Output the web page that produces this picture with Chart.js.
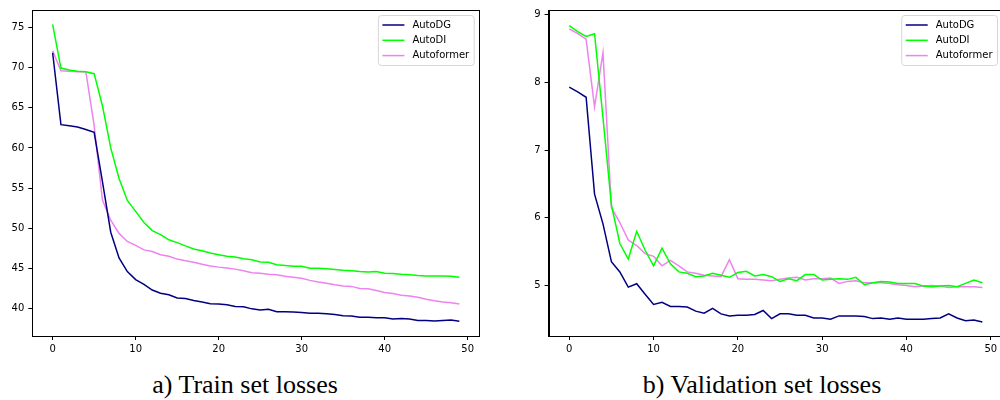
<!DOCTYPE html>
<html>
<head>
<meta charset="utf-8">
<script src="https://cdn.jsdelivr.net/npm/chart.js@4.4.1/dist/chart.umd.min.js"></script>
<style>
    html, body { margin: 0; padding: 0; background: #fff; width: 1000px; height: 400px; overflow: hidden; }
    canvas { position: absolute; top: 0; }
    #trainChart { left: 0; }
    #valChart { left: 510px; }
    .caption {
        position: absolute; top: 372px; line-height: 26px; white-space: nowrap;
        font-family: "Liberation Serif", "Times New Roman", serif; font-size: 26px; color: #000;
        transform: translateX(-50%);
    }
</style>
</head>
<body>
<canvas id="trainChart" width="490" height="360"></canvas>
<canvas id="valChart" width="500" height="360"></canvas>
<div class="caption" style="left:245px">a) Train set losses</div>
<div class="caption" style="left:762px">b) Validation set losses</div>
<script>
const epochs = [0, 1, 2, 3, 4, 5, 6, 7, 8, 9, 10, 11, 12, 13, 14, 15, 16, 17, 18, 19,
    20, 21, 22, 23, 24, 25, 26, 27, 28, 29, 30, 31, 32, 33, 34, 35, 36, 37, 38, 39,
    40, 41, 42, 43, 44, 45, 46, 47, 48, 49];
const seriesNames = ['AutoDG', 'AutoDI', 'Autoformer'];
const seriesColors = ['#000080', '#00ff00', '#ee82ee'];

// a) Train set losses
const trainDG = [71.85, 62.9, 62.75, 62.6, 62.3, 61.95, 55.8, 49.5, 46.3, 44.6,
    43.6, 43.0, 42.3, 41.9, 41.7, 41.3, 41.25, 41.0, 40.8, 40.6,
    40.55, 40.45, 40.25, 40.2, 39.95, 39.8, 39.9, 39.6, 39.6, 39.55,
    39.5, 39.4, 39.4, 39.35, 39.25, 39.1, 39.05, 38.9, 38.9, 38.85,
    38.85, 38.7, 38.75, 38.7, 38.5, 38.5, 38.45, 38.5, 38.55, 38.4];
const trainDI = [75.4, 69.95, 69.7, 69.55, 69.5, 69.25, 65.25, 60.0, 56.2, 53.45,
    52.1, 50.7, 49.7, 49.2, 48.55, 48.2, 47.8, 47.4, 47.2, 46.9,
    46.7, 46.5, 46.4, 46.2, 46.07, 45.8, 45.75, 45.45, 45.35, 45.25,
    45.25, 45.0, 45.0, 44.96, 44.85, 44.75, 44.7, 44.6, 44.55, 44.6,
    44.4, 44.35, 44.25, 44.2, 44.1, 44.05, 44.05, 44.05, 44.0, 43.9];
const trainFormer = [72.1, 69.6, 69.55, 69.5, 69.5, 62.8, 53.5, 51.0, 49.35, 48.35,
    47.85, 47.3, 47.1, 46.7, 46.5, 46.15, 45.95, 45.75, 45.5, 45.3,
    45.15, 45.05, 44.9, 44.7, 44.46, 44.4, 44.25, 44.2, 44.0, 43.9,
    43.75, 43.5, 43.3, 43.15, 42.95, 42.8, 42.75, 42.5, 42.45, 42.25,
    42.0, 41.85, 41.65, 41.55, 41.4, 41.15, 40.95, 40.8, 40.7, 40.55];

// b) Validation set losses
const valDG = [7.93, 7.86, 7.78, 6.35, 5.91, 5.35, 5.2, 4.975, 5.025, 4.87,
    4.72, 4.75, 4.69, 4.69, 4.68, 4.62, 4.59, 4.66, 4.58, 4.55,
    4.56, 4.56, 4.57, 4.63, 4.51, 4.58, 4.58, 4.56, 4.56, 4.52,
    4.52, 4.5, 4.55, 4.55, 4.55, 4.54, 4.51, 4.52, 4.5, 4.52,
    4.5, 4.5, 4.5, 4.51, 4.52, 4.58, 4.52, 4.48, 4.49, 4.46];
const valDI = [8.84, 8.75, 8.68, 8.72, 7.48, 6.19, 5.62, 5.39, 5.8, 5.52,
    5.29, 5.55, 5.32, 5.2, 5.18, 5.13, 5.14, 5.18, 5.15, 5.12,
    5.19, 5.21, 5.14, 5.16, 5.13, 5.06, 5.1, 5.07, 5.16, 5.16,
    5.08, 5.09, 5.1, 5.09, 5.12, 5.01, 5.04, 5.06, 5.05, 5.03,
    5.03, 5.03, 4.99, 4.98, 4.99, 5.0, 4.98, 5.03, 5.08, 5.04];
const valFormer = [8.79, 8.72, 8.64, 7.64, 8.44, 6.15, 5.93, 5.67, 5.59, 5.47,
    5.43, 5.29, 5.37, 5.29, 5.2, 5.18, 5.15, 5.14, 5.13, 5.38,
    5.1, 5.09, 5.09, 5.08, 5.07, 5.09, 5.11, 5.12, 5.08, 5.1,
    5.1, 5.11, 5.03, 5.06, 5.07, 5.04, 5.04, 5.04, 5.03, 5.01,
    5.0, 4.98, 4.99, 5.0, 4.99, 4.97, 4.98, 4.98, 4.98, 4.97];

const xTicks = [0, 10, 20, 30, 40, 50];
const trainYTicks = [40, 45, 50, 55, 60, 65, 70, 75];
const valYTicks = [5, 6, 7, 8, 9];

const tickFont = { family: 'DejaVu Sans', size: 10 };

// box around the plot + legend in the upper right corner, like matplotlib
const framePlugin = {
    id: 'frame',
    afterDraw(chart) {
        const ctx = chart.ctx;
        const a = chart.chartArea;
        ctx.save();
        ctx.strokeStyle = '#000';
        ctx.lineWidth = 1;
        ctx.strokeRect(Math.round(a.left) + 0.5, Math.round(a.top) + 0.5,
            Math.round(a.right - a.left), Math.round(a.bottom - a.top));

        ctx.font = '10px "DejaVu Sans"';
        const labels = chart.data.datasets.map(d => d.label);
        const textW = Math.max(...labels.map(l => ctx.measureText(l).width));
        const w = 4 + 22 + 8 + textW + 5;
        const h = 50;
        const x = a.right - 5.5 - w;
        const y = a.top + 5.5;
        ctx.beginPath();
        ctx.roundRect(x, y, w, h, 3);
        ctx.fillStyle = 'rgba(255,255,255,0.8)';
        ctx.fill();
        ctx.strokeStyle = '#d6d6d6';
        ctx.stroke();
        ctx.textBaseline = 'middle';
        chart.data.datasets.forEach((d, i) => {
            const ry = y + 9.5 + i * 15.3;
            ctx.beginPath();
            ctx.moveTo(x + 4, ry);
            ctx.lineTo(x + 26, ry);
            ctx.strokeStyle = d.borderColor;
            ctx.lineWidth = 1.5;
            ctx.stroke();
            ctx.fillStyle = '#000';
            ctx.fillText(d.label, x + 34, ry);
        });
        ctx.restore();
    }
};

function makeChart(id, seriesList, yMin, yMax, yTicks, yWidth, pad) {
    const ctx = document.getElementById(id).getContext('2d');
    return new Chart(ctx, {
        type: 'line',
        data: {
            datasets: seriesList.map((vals, i) => ({
                label: seriesNames[i],
                data: vals.map((v, j) => ({ x: epochs[j], y: v })),
                borderColor: seriesColors[i],
                borderWidth: 1.5,
                pointRadius: 0,
                tension: 0,
                fill: false
            }))
        },
        options: {
            responsive: false,
            animation: false,
            devicePixelRatio: 1,
            layout: { padding: pad },
            plugins: { legend: { display: false }, tooltip: { enabled: false } },
            scales: {
                x: {
                    type: 'linear',
                    min: -2.45,
                    max: 51.45,
                    afterBuildTicks: s => { s.ticks = xTicks.map(v => ({ value: v })); },
                    afterFit: s => { s.height = 24; },
                    grid: { drawOnChartArea: false, drawTicks: true, tickLength: 4, color: '#000' },
                    border: { color: '#000' },
                    ticks: { font: tickFont, color: '#000', padding: 3, maxRotation: 0 }
                },
                y: {
                    min: yMin,
                    max: yMax,
                    afterBuildTicks: s => { s.ticks = yTicks.map(v => ({ value: v })); },
                    afterFit: s => { s.width = yWidth; },
                    grid: { drawOnChartArea: false, drawTicks: true, tickLength: 4, color: '#000' },
                    border: { color: '#000' },
                    ticks: { font: tickFont, color: '#000', padding: 4 }
                }
            }
        },
        plugins: [framePlugin]
    });
}

makeChart('trainChart', [trainDG, trainDI, trainFormer], 36.57, 77.18, trainYTicks, 32.3,
    { left: 0, right: 10.3, top: 8.7, bottom: 0 });
makeChart('valChart', [valDG, valDI, valFormer], 4.253, 9.07, valYTicks, 38.6,
    { left: 0, right: 7, top: 9.3, bottom: 0 });
</script>
</body>
</html>
